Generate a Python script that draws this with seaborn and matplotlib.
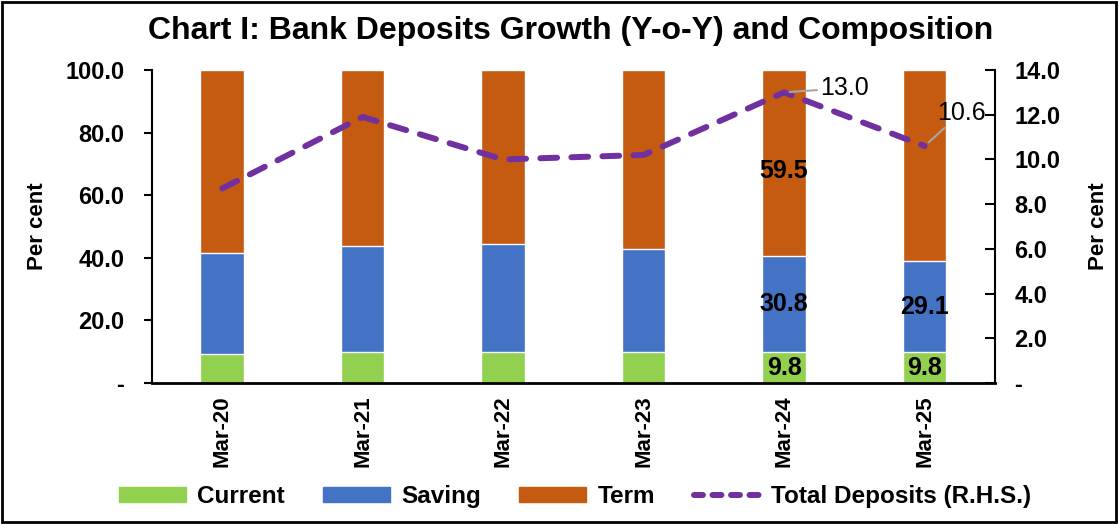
import matplotlib
matplotlib.use("Agg")
import matplotlib.pyplot as plt
import seaborn as sns
import numpy as np
import pandas as pd
from matplotlib.patches import Rectangle, Patch
from matplotlib.lines import Line2D
from matplotlib.ticker import FuncFormatter, MultipleLocator

# chart data
periods = ["Mar-20", "Mar-21", "Mar-22", "Mar-23", "Mar-24", "Mar-25"]
current = [9.2, 10.0, 10.0, 10.0, 9.8, 9.8]
saving = [32.3, 33.7, 34.5, 32.7, 30.8, 29.1]
term = [58.5, 56.3, 55.5, 57.3, 59.5, 61.1]
total_growth = [8.7, 11.9, 10.0, 10.2, 13.0, 10.6]

# which segments carry a value label in the original
label_current = ["Mar-24", "Mar-25"]
label_saving = ["Mar-24", "Mar-25"]
label_term = ["Mar-24"]
label_growth = ["Mar-24", "Mar-25"]

CURRENT = "#92D050"
SAVING = "#4472C4"
TERM = "#C55A11"
LINE = "#7030A0"

sns.set_style("white")
plt.rcParams["font.family"] = ["Liberation Sans", "DejaVu Sans"]
plt.rcParams["font.weight"] = "bold"
for key in ["text.color", "axes.labelcolor", "xtick.color", "ytick.color"]:
    plt.rcParams[key] = "black"

df = pd.DataFrame({"period": periods, "current": current,
                   "saving": saving, "term": term})
df["cur_sav"] = df["current"] + df["saving"]
df["total"] = df["cur_sav"] + df["term"]

fig = plt.figure(figsize=(11.19, 5.24), dpi=100)
ax = fig.add_axes([0.1358, 0.2691, 0.7532, 0.5973])

# stacked bars drawn back to front
sns.barplot(data=df, x="period", y="total", color=TERM, saturation=1,
            width=0.31, ax=ax, errorbar=None)
sns.barplot(data=df, x="period", y="cur_sav", color=SAVING, saturation=1,
            width=0.31, ax=ax, errorbar=None)
sns.barplot(data=df, x="period", y="current", color=CURRENT, saturation=1,
            width=0.31, ax=ax, errorbar=None)

ax.set_ylim(0, 100)
ax.set_xlim(-0.5, len(periods) - 0.5)
ax.yaxis.set_major_locator(MultipleLocator(20))
fmt = FuncFormatter(lambda v, p: "-" if abs(v) < 1e-9 else f"{v:.1f}")
ax.yaxis.set_major_formatter(fmt)
ax.set_xlabel("")
ax.set_ylabel("Per cent", fontsize=16, fontweight="bold", labelpad=12)
ax.tick_params(axis="y", direction="out", length=6, width=1.5,
               labelsize=17, pad=14, left=True, colors="black")
ax.tick_params(axis="x", length=0, labelsize=16, pad=9, colors="black")
for lbl in ax.get_xticklabels():
    lbl.set_rotation(90)
    lbl.set_fontweight("bold")
for s in ["top", "right"]:
    ax.spines[s].set_visible(False)
ax.spines["left"].set_linewidth(1.5)
ax.spines["bottom"].set_linewidth(2)
for s in ["left", "bottom"]:
    ax.spines[s].set_color("black")

# value labels inside the bars
for i, p in enumerate(periods):
    c, s, t = current[i], saving[i], term[i]
    if p in label_current:
        ax.text(i, c / 2, f"{c:.1f}", ha="center", va="center",
                fontsize=18, fontweight="bold", color="black")
    if p in label_saving:
        ax.text(i, c + s / 2, f"{s:.1f}", ha="center", va="center",
                fontsize=18, fontweight="bold", color="black")
    if p in label_term:
        ax.text(i, c + s + t / 2 - 2.5, f"{t:.1f}", ha="center", va="center",
                fontsize=18, fontweight="bold", color="black")

# growth line on the right axis
ax2 = ax.twinx()
sns.lineplot(x=np.arange(len(periods)), y=total_growth, ax=ax2,
             color=LINE, linewidth=4.3)
ln = ax2.lines[0]
ln.set_dashes([2.8, 2.4])
ln.set_dash_capstyle("round")
ax2.set_ylim(0, 14)
ax2.set_xlim(-0.5, len(periods) - 0.5)
ax2.yaxis.set_major_locator(MultipleLocator(2))
ax2.yaxis.set_major_formatter(fmt)
ax2.tick_params(axis="y", direction="in", length=7, width=1.5,
                labelsize=17, pad=14, right=True, colors="black")
ax2.set_ylabel("Per cent", fontsize=16, fontweight="bold", labelpad=20)
for s in ["top", "left", "bottom"]:
    ax2.spines[s].set_visible(False)
ax2.spines["right"].set_linewidth(1.5)
ax2.spines["right"].set_color("black")

offsets = {"Mar-24": (26, 3), "Mar-25": (9, 24)}
for i, p in enumerate(periods):
    if p not in label_growth:
        continue
    ax2.annotate(f"{total_growth[i]:.1f}", xy=(i, total_growth[i]),
                 xytext=offsets[p], textcoords="offset points",
                 ha="left", va="center", fontsize=18, fontweight="normal",
                 color="black",
                 arrowprops=dict(arrowstyle="-", color="#A6A6A6", lw=1.5,
                                 shrinkA=0, shrinkB=4))

fig.suptitle("Chart I: Bank Deposits Growth (Y-o-Y) and Composition",
             x=0.51, y=0.97, fontsize=23, fontweight="bold", color="black")

handles = [Patch(color=CURRENT, label="Current"),
           Patch(color=SAVING, label="Saving"),
           Patch(color=TERM, label="Term"),
           Line2D([], [], color=LINE, lw=4.3, dashes=[1.5, 1.6],
                  dash_capstyle="round", label="Total Deposits (R.H.S.)")]
fig.legend(handles=handles, loc="center", bbox_to_anchor=(0.514, 0.052),
           ncol=4, frameon=False, handlelength=2.75, handleheight=0.6,
           columnspacing=1.6, handletextpad=0.45,
           prop={"size": 17.5, "weight": "bold"})

fig.patches.append(Rectangle((0.002, 0.004), 0.995, 0.992, transform=fig.transFigure,
                             fill=False, edgecolor="black", linewidth=2))

fig.savefig("out.png", dpi=100)
